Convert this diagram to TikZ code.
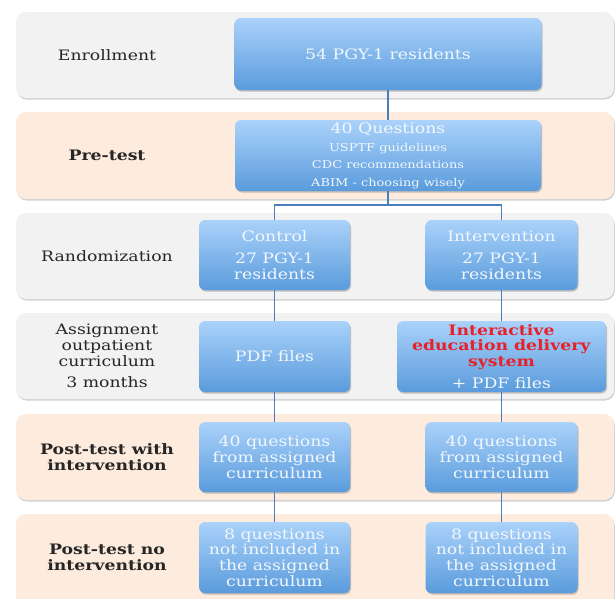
\documentclass[tikz,border=0pt]{standalone}
\usepackage{fontspec}
\setmainfont[FakeStretch=1.2]{DejaVu Serif}
\usetikzlibrary{shadows}
\definecolor{bandgray}{HTML}{F2F2F2}
\definecolor{bandpeach}{HTML}{FDEBDD}
\definecolor{boxtop}{HTML}{AAD2FA}
\definecolor{boxbot}{HTML}{5A9BDC}
\definecolor{linkblue}{HTML}{4A7EBB}
\definecolor{redtxt}{HTML}{E8202A}
\definecolor{boxtext}{HTML}{F2F7FD}
\newcommand{\redb}[1]{\textcolor{redtxt}{\textbf{#1}}}
\newcommand{\smalltxt}[1]{{\fontsize{10.8}{13}\selectfont #1}}
\begin{document}
\begin{tikzpicture}[x=1pt,y=1pt,
  band/.style={rounded corners=10pt, drop shadow={shadow xshift=0.8pt, shadow yshift=-1.5pt, fill=black!40, opacity=0.45}},
  grayband/.style={band, fill=bandgray},
  peachband/.style={band, fill=bandpeach},
  fbox/.style={rectangle, rounded corners=6pt, top color=boxtop, bottom color=boxbot, draw=none,
    drop shadow={shadow xshift=1pt, shadow yshift=-1.5pt, fill=black!50, opacity=0.45},
    text=boxtext, align=center, inner sep=0pt, font=\fontsize{14.4}{15.8}\selectfont},
  lab/.style={align=center, text=black!85, font=\fontsize{14.4}{15.8}\selectfont},
  blab/.style={lab, font=\fontsize{14.4}{15.8}\selectfont\bfseries},
  link/.style={draw=linkblue, line width=1.8pt}
]
\useasboundingbox (0,0) rectangle (615,-598);
% bands
\path[grayband]  (16,-12)  rectangle (614,-98);
\path[peachband] (16,-112) rectangle (614,-199);
\path[grayband]  (16,-213) rectangle (614,-299);
\path[grayband]  (16,-313) rectangle (614,-399);
\path[peachband] (16,-414) rectangle (614,-500);
\path[peachband] (16,-514) rectangle (614,-606);
% left labels
\node[lab]  (l1) at (107,-55)  {Enrollment};
\node[blab] (l2) at (107,-155) {Pre-test};
\node[lab]  (l3) at (107,-256) {Randomization};
\node[lab]  (l4) at (107,-356) {Assignment\\outpatient\\curriculum\\[6pt]3 months};
\node[blab] (l5) at (107,-457) {Post-test with\\intervention};
\node[blab] (l6) at (107,-557) {Post-test no\\intervention};
% boxes
\node[fbox, minimum width=307pt, minimum height=72pt] (enr) at (388,-54) {54 PGY-1 residents};
\node[fbox, minimum width=306pt, minimum height=71pt] (pre) at (388,-155.5)
  {40 Questions\\[2pt]\smalltxt{USPTF guidelines}\\[1.5pt]\smalltxt{CDC recommendations}\\[2pt]\smalltxt{ABIM - choosing wisely}};
\node[fbox, minimum width=151pt, minimum height=70pt] (ctl) at (274.5,-255) {Control\\[6pt]27 PGY-1\\residents};
\node[fbox, minimum width=152pt, minimum height=70pt] (int) at (501.5,-255) {Intervention\\[6pt]27 PGY-1\\residents};
\node[fbox, minimum width=151pt, minimum height=71pt] (pdf) at (274.5,-356.5) {PDF files};
\node[fbox, minimum width=209pt, minimum height=71pt] (ied) at (501.5,-356.5)
  {\redb{Interactive}\\\redb{education delivery}\\\redb{system}\\[6pt]+ PDF files};
\node[fbox, minimum width=151pt, minimum height=70pt] (pw1) at (274.5,-457) {40 questions\\from assigned\\curriculum};
\node[fbox, minimum width=152pt, minimum height=70pt] (pw2) at (501.5,-457) {40 questions\\from assigned\\curriculum};
\node[fbox, minimum width=151pt, minimum height=71pt] (pn1) at (274.5,-557.5) {8 questions\\not included in\\the assigned\\curriculum};
\node[fbox, minimum width=152pt, minimum height=71pt] (pn2) at (501.5,-557.5) {8 questions\\not included in\\the assigned\\curriculum};
% connectors
\coordinate (split) at (388,-205);
\draw[link] (enr.south) -- (pre.north);
\draw[link] (pre.south) -- (split);
\draw[link] (split) -| (ctl.north);
\draw[link] (split) -| (int.north);
\draw[link] (ctl.south) -- (pdf.north);
\draw[link] (pdf.south) -- (pw1.north);
\draw[link] (pw1.south) -- (pn1.north);
\draw[link] (int.south) -- (ied.north);
\draw[link] (ied.south) -- (pw2.north);
\draw[link] (pw2.south) -- (pn2.north);
\end{tikzpicture}
\end{document}
